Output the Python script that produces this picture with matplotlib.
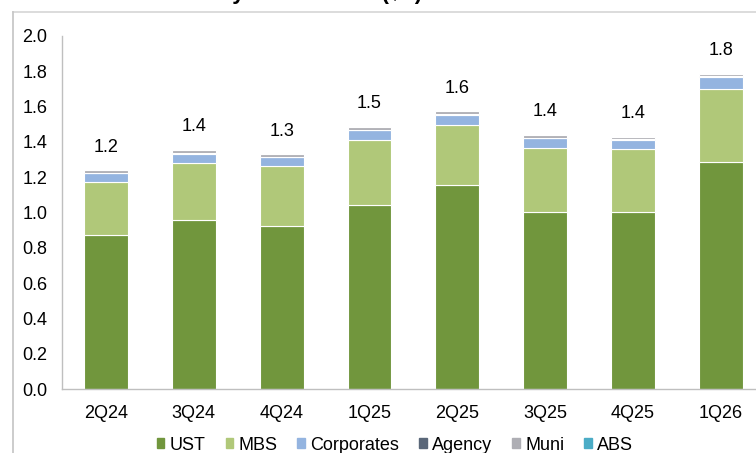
import matplotlib
matplotlib.use("Agg")
import matplotlib.pyplot as plt
import numpy as np
from matplotlib.lines import Line2D
from matplotlib.patches import Rectangle

plt.rcParams['font.family'] = ['Liberation Sans', 'DejaVu Sans']

quarters = ["2Q24", "3Q24", "4Q24", "1Q25", "2Q25", "3Q25", "4Q25", "1Q26"]
ust = [0.875, 0.960, 0.923, 1.043, 1.158, 1.004, 1.004, 1.284]
mbs = [0.298, 0.321, 0.339, 0.368, 0.337, 0.362, 0.354, 0.415]
corporates = [0.049, 0.051, 0.051, 0.056, 0.060, 0.054, 0.054, 0.071]
agency = [0.003, 0.004, 0.003, 0.003, 0.003, 0.003, 0.003, 0.003]
muni = [0.014, 0.019, 0.013, 0.015, 0.015, 0.015, 0.013, 0.013]
abs_ = [0.001, 0.001, 0.001, 0.001, 0.001, 0.001, 0.001, 0.001]

series = [("UST", ust, "#71963d"),
          ("MBS", mbs, "#b0c879"),
          ("Corporates", corporates, "#94b4e0"),
          ("Agency", agency, "#5a6779"),
          ("Muni", muni, "#aeaeb4"),
          ("ABS", abs_, "#4bacc6")]

FS = 13

fig = plt.figure(figsize=(7.56, 4.53), dpi=100)
ax = fig.add_axes([62/756, 1-389/453, 1-62/756, (389-36)/453])

x = np.arange(len(quarters))
bottom = np.zeros(len(quarters))
for name, vals, col in series:
    v = np.array(vals)
    ax.bar(x, v, width=0.5, bottom=bottom, color=col, edgecolor="white",
           linewidth=0.8, label=name)
    bottom += v

for xi, tot in zip(x, bottom):
    ax.annotate(f"{tot:.1f}", (xi, tot), xytext=(0, 10.5), textcoords="offset points",
                ha="center", va="bottom", fontsize=FS, color="#000000")

ax.set_xlim(-0.5, 7.4)
ax.set_ylim(0, 2.0)
ax.set_yticks(np.arange(0, 2.01, 0.2))
ax.set_yticklabels([f"{t:.1f}" for t in np.arange(0, 2.01, 0.2)])
ax.set_xticks(x)
ax.set_xticklabels(quarters)
ax.tick_params(axis="both", length=0, labelsize=FS, colors="#000000")
ax.tick_params(axis="y", pad=10.5)
ax.tick_params(axis="x", pad=11.5)
for s in ["top", "right"]:
    ax.spines[s].set_visible(False)
for s in ["left", "bottom"]:
    ax.spines[s].set_color("#bfbfbf")
    ax.spines[s].set_linewidth(1.0)

handles = [Rectangle((0, 0), 1, 1, color=c) for _, _, c in series]
labels = [n for n, _, _ in series]
fig.legend(handles, labels, loc="center", bbox_to_anchor=(395/756, 1-445/453),
           ncol=6, frameon=False, fontsize=FS, handlelength=0.42, handleheight=0.42,
           handletextpad=0.3, columnspacing=1.1, borderaxespad=0, borderpad=0)

# frame lines
fig.add_artist(Line2D([13/756, 1], [1-12/453, 1-12/453], transform=fig.transFigure,
                      color="#d9d9d9", lw=1.3))
fig.add_artist(Line2D([13/756, 13/756], [0, 1-12/453], transform=fig.transFigure,
                      color="#c8c8c8", lw=1.3))

# cropped title
fig.text(422/756, 1.0 + 1/453, "Total Securities by Asset Class ($T)", ha="right",
         va="baseline", fontsize=16, fontweight="bold", color="#000000")

fig.savefig("out.png", dpi=100)
